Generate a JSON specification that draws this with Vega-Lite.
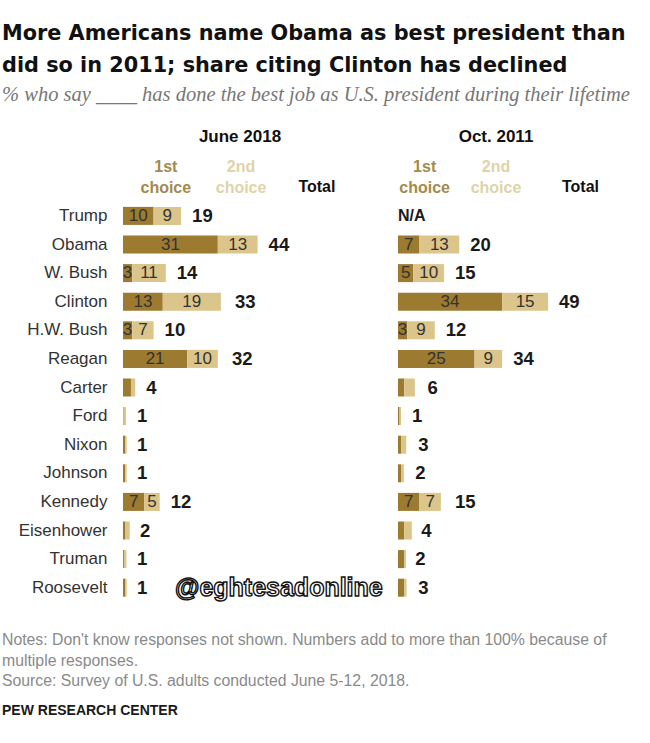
{
  "$schema": "https://vega.github.io/schema/vega-lite/v6.json",
  "background": "white",
  "padding": {"left": 2, "top": 22, "right": 5, "bottom": 5},
  "title": {
    "text": ["More Americans name Obama as best president than", "did so in 2011; share citing Clinton has declined"],
    "subtitle": "% who say ____ has done the best job as U.S. president during their lifetime",
    "anchor": "start",
    "font": "DejaVu Sans",
    "fontSize": 20.8,
    "fontWeight": "bold",
    "lineHeight": 32,
    "color": "#111111",
    "subtitleFont": "Liberation Serif",
    "subtitleFontStyle": "italic",
    "subtitleFontSize": 20.5,
    "subtitleColor": "#777777",
    "subtitlePadding": 8,
    "offset": 22
  },
  "datasets": {
    "presidents": [
      {"panel": "June 2018", "president": "Trump", "choice": "1st", "value": 10, "total": 19},
      {"panel": "June 2018", "president": "Trump", "choice": "2nd", "value": 9, "total": 19},
      {"panel": "June 2018", "president": "Obama", "choice": "1st", "value": 31, "total": 44},
      {"panel": "June 2018", "president": "Obama", "choice": "2nd", "value": 13, "total": 44},
      {"panel": "June 2018", "president": "W. Bush", "choice": "1st", "value": 3, "total": 14},
      {"panel": "June 2018", "president": "W. Bush", "choice": "2nd", "value": 11, "total": 14},
      {"panel": "June 2018", "president": "Clinton", "choice": "1st", "value": 13, "total": 33},
      {"panel": "June 2018", "president": "Clinton", "choice": "2nd", "value": 19, "total": 33},
      {"panel": "June 2018", "president": "H.W. Bush", "choice": "1st", "value": 3, "total": 10},
      {"panel": "June 2018", "president": "H.W. Bush", "choice": "2nd", "value": 7, "total": 10},
      {"panel": "June 2018", "president": "Reagan", "choice": "1st", "value": 21, "total": 32},
      {"panel": "June 2018", "president": "Reagan", "choice": "2nd", "value": 10, "total": 32},
      {"panel": "June 2018", "president": "Carter", "choice": "1st", "value": 2.6, "total": 4},
      {"panel": "June 2018", "president": "Carter", "choice": "2nd", "value": 1.4, "total": 4},
      {"panel": "June 2018", "president": "Ford", "choice": "1st", "value": 0.2, "total": 1},
      {"panel": "June 2018", "president": "Ford", "choice": "2nd", "value": 0.8, "total": 1},
      {"panel": "June 2018", "president": "Nixon", "choice": "1st", "value": 0.7, "total": 1},
      {"panel": "June 2018", "president": "Nixon", "choice": "2nd", "value": 0.5, "total": 1},
      {"panel": "June 2018", "president": "Johnson", "choice": "1st", "value": 0.7, "total": 1},
      {"panel": "June 2018", "president": "Johnson", "choice": "2nd", "value": 0.5, "total": 1},
      {"panel": "June 2018", "president": "Kennedy", "choice": "1st", "value": 7, "total": 12},
      {"panel": "June 2018", "president": "Kennedy", "choice": "2nd", "value": 5, "total": 12},
      {"panel": "June 2018", "president": "Eisenhower", "choice": "1st", "value": 0.8, "total": 2},
      {"panel": "June 2018", "president": "Eisenhower", "choice": "2nd", "value": 1.4, "total": 2},
      {"panel": "June 2018", "president": "Truman", "choice": "1st", "value": 0.3, "total": 1},
      {"panel": "June 2018", "president": "Truman", "choice": "2nd", "value": 0.8, "total": 1},
      {"panel": "June 2018", "president": "Roosevelt", "choice": "1st", "value": 0.8, "total": 1},
      {"panel": "June 2018", "president": "Roosevelt", "choice": "2nd", "value": 0.4, "total": 1},
      {"panel": "Oct. 2011", "president": "Obama", "choice": "1st", "value": 7, "total": 20},
      {"panel": "Oct. 2011", "president": "Obama", "choice": "2nd", "value": 13, "total": 20},
      {"panel": "Oct. 2011", "president": "W. Bush", "choice": "1st", "value": 5, "total": 15},
      {"panel": "Oct. 2011", "president": "W. Bush", "choice": "2nd", "value": 10, "total": 15},
      {"panel": "Oct. 2011", "president": "Clinton", "choice": "1st", "value": 34, "total": 49},
      {"panel": "Oct. 2011", "president": "Clinton", "choice": "2nd", "value": 15, "total": 49},
      {"panel": "Oct. 2011", "president": "H.W. Bush", "choice": "1st", "value": 3, "total": 12},
      {"panel": "Oct. 2011", "president": "H.W. Bush", "choice": "2nd", "value": 9, "total": 12},
      {"panel": "Oct. 2011", "president": "Reagan", "choice": "1st", "value": 25, "total": 34},
      {"panel": "Oct. 2011", "president": "Reagan", "choice": "2nd", "value": 9, "total": 34},
      {"panel": "Oct. 2011", "president": "Carter", "choice": "1st", "value": 2, "total": 6},
      {"panel": "Oct. 2011", "president": "Carter", "choice": "2nd", "value": 3.5, "total": 6},
      {"panel": "Oct. 2011", "president": "Ford", "choice": "1st", "value": 0.5, "total": 1},
      {"panel": "Oct. 2011", "president": "Ford", "choice": "2nd", "value": 0.5, "total": 1},
      {"panel": "Oct. 2011", "president": "Nixon", "choice": "1st", "value": 1, "total": 3},
      {"panel": "Oct. 2011", "president": "Nixon", "choice": "2nd", "value": 1.7, "total": 3},
      {"panel": "Oct. 2011", "president": "Johnson", "choice": "1st", "value": 1, "total": 2},
      {"panel": "Oct. 2011", "president": "Johnson", "choice": "2nd", "value": 0.9, "total": 2},
      {"panel": "Oct. 2011", "president": "Kennedy", "choice": "1st", "value": 7, "total": 15},
      {"panel": "Oct. 2011", "president": "Kennedy", "choice": "2nd", "value": 7, "total": 15},
      {"panel": "Oct. 2011", "president": "Eisenhower", "choice": "1st", "value": 2, "total": 4},
      {"panel": "Oct. 2011", "president": "Eisenhower", "choice": "2nd", "value": 2.5, "total": 4},
      {"panel": "Oct. 2011", "president": "Truman", "choice": "1st", "value": 2, "total": 2},
      {"panel": "Oct. 2011", "president": "Truman", "choice": "2nd", "value": 0.6, "total": 2},
      {"panel": "Oct. 2011", "president": "Roosevelt", "choice": "1st", "value": 2, "total": 3},
      {"panel": "Oct. 2011", "president": "Roosevelt", "choice": "2nd", "value": 0.8, "total": 3}
    ],
    "notes": [
      {"line": 1, "kind": "note", "text": "Notes: Don't know responses not shown. Numbers add to more than 100% because of"},
      {"line": 2, "kind": "note", "text": "multiple responses."},
      {"line": 3, "kind": "note", "text": "Source: Survey of U.S. adults conducted June 5-12, 2018."},
      {"line": 4, "kind": "org", "text": "PEW RESEARCH CENTER"}
    ]
  },
  "spacing": 28,
  "vconcat": [
    {
      "spacing": 41,
      "bounds": "flush",
      "hconcat": [
        {
          "width": 234,
          "height": 429,
          "title": {"text": "June 2018", "font": "Liberation Sans", "fontSize": 17, "fontWeight": "bold", "color": "#111111", "offset": 13},
          "data": {"name": "presidents"},
          "layer": [
            {
              "transform": [{"filter": "datum.panel == 'June 2018'"}],
              "mark": {"type": "bar"},
              "encoding": {
                "y": {
                  "field": "president", "type": "nominal",
                  "scale": {"domain": ["_h", "Trump", "Obama", "W. Bush", "Clinton", "H.W. Bush", "Reagan", "Carter", "Ford", "Nixon", "Johnson", "Kennedy", "Eisenhower", "Truman", "Roosevelt"], "paddingInner": 0.37, "paddingOuter": 0.185},
                  "axis": {"title": null, "domain": false, "ticks": false, "tickSize": 0, "labelPadding": 16, "minExtent": 121, "labelFont": "Liberation Sans", "labelFontSize": 17, "labelColor": "#333333", "labelExpr": "datum.value == '_h' ? '' : datum.value"}
                },
                "x": {"field": "value", "type": "quantitative", "stack": "zero", "scale": {"domain": [0, 76.5], "nice": false, "zero": true}, "axis": null},
                "color": {"field": "choice", "type": "nominal", "scale": {"domain": ["1st", "2nd"], "range": ["#9c7a30", "#dcc58a"]}, "legend": null},
                "order": {"field": "choice"}
              }
            },
            {
              "transform": [
                {"filter": "datum.panel == 'June 2018'"},
                {"filter": "datum.total >= 10"},
                {"stack": "value", "groupby": ["president"], "sort": [{"field": "choice", "order": "ascending"}], "as": ["x0", "x1"]},
                {"fold": ["x0", "x1"], "as": ["edge", "pos"]},
                {"aggregate": [{"op": "mean", "field": "pos", "as": "mid"}], "groupby": ["president", "choice", "value"]}
              ],
              "mark": {"type": "text", "font": "Liberation Sans", "fontSize": 17, "color": "#333333", "baseline": "middle"},
              "encoding": {
                "y": {"field": "president", "type": "nominal"},
                "x": {"field": "mid", "type": "quantitative"},
                "text": {"field": "value", "type": "quantitative"}
              }
            },
            {
              "transform": [{"filter": "datum.panel == 'June 2018'"}, {"filter": "datum.choice == '1st'"}],
              "mark": {"type": "text", "font": "Liberation Sans", "fontSize": 18.5, "fontWeight": "bold", "color": "#1a1a1a", "align": "left", "baseline": "middle", "dx": 11},
              "encoding": {
                "y": {"field": "president", "type": "nominal"},
                "x": {"field": "total", "type": "quantitative", "stack": null},
                "text": {"field": "total", "type": "quantitative"}
              }
            },
            {
              "data": {"values": [{}]},
              "mark": {"type": "text", "text": ["1st", "choice"], "lineHeight": 21, "font": "Liberation Sans", "fontSize": 16, "fontWeight": "bold", "color": "#a38a4b", "baseline": "middle", "dy": -20},
              "encoding": {"x": {"datum": 14, "type": "quantitative"}, "y": {"datum": "_h", "type": "nominal"}}
            },
            {
              "data": {"values": [{}]},
              "mark": {"type": "text", "text": ["2nd", "choice"], "lineHeight": 21, "font": "Liberation Sans", "fontSize": 16, "fontWeight": "bold", "color": "#e0d3a8", "baseline": "middle", "dy": -20},
              "encoding": {"x": {"datum": 38.6, "type": "quantitative"}, "y": {"datum": "_h", "type": "nominal"}}
            },
            {
              "data": {"values": [{}]},
              "mark": {"type": "text", "text": "Total", "font": "Liberation Sans", "fontSize": 16, "fontWeight": "bold", "color": "#111111", "baseline": "middle"},
              "encoding": {"x": {"datum": 63.4, "type": "quantitative"}, "y": {"datum": "_h", "type": "nominal"}}
            },
            {
              "data": {"values": [{}]},
              "mark": {"type": "text", "text": "@eghtesadonline", "font": "Liberation Sans", "fontSize": 25, "fontWeight": "bold", "fill": "white", "stroke": "#111111", "strokeWidth": 1.4, "align": "left", "baseline": "middle"},
              "encoding": {"x": {"datum": 17, "type": "quantitative"}, "y": {"datum": "Roosevelt", "type": "nominal"}}
            }
          ]
        },
        {
          "width": 196,
          "height": 429,
          "title": {"text": "Oct. 2011", "font": "Liberation Sans", "fontSize": 17, "fontWeight": "bold", "color": "#111111", "offset": 13},
          "data": {"name": "presidents"},
          "layer": [
            {
              "transform": [{"filter": "datum.panel == 'Oct. 2011'"}],
              "mark": {"type": "bar"},
              "encoding": {
                "y": {
                  "field": "president", "type": "nominal",
                  "scale": {"domain": ["_h", "Trump", "Obama", "W. Bush", "Clinton", "H.W. Bush", "Reagan", "Carter", "Ford", "Nixon", "Johnson", "Kennedy", "Eisenhower", "Truman", "Roosevelt"], "paddingInner": 0.37, "paddingOuter": 0.185},
                  "axis": null
                },
                "x": {"field": "value", "type": "quantitative", "stack": "zero", "scale": {"domain": [0, 64], "nice": false, "zero": true}, "axis": null},
                "color": {"field": "choice", "type": "nominal", "scale": {"domain": ["1st", "2nd"], "range": ["#9c7a30", "#dcc58a"]}, "legend": null},
                "order": {"field": "choice"}
              }
            },
            {
              "transform": [
                {"filter": "datum.panel == 'Oct. 2011'"},
                {"filter": "datum.total >= 10"},
                {"stack": "value", "groupby": ["president"], "sort": [{"field": "choice", "order": "ascending"}], "as": ["x0", "x1"]},
                {"fold": ["x0", "x1"], "as": ["edge", "pos"]},
                {"aggregate": [{"op": "mean", "field": "pos", "as": "mid"}], "groupby": ["president", "choice", "value"]}
              ],
              "mark": {"type": "text", "font": "Liberation Sans", "fontSize": 17, "color": "#333333", "baseline": "middle"},
              "encoding": {
                "y": {"field": "president", "type": "nominal"},
                "x": {"field": "mid", "type": "quantitative"},
                "text": {"field": "value", "type": "quantitative"}
              }
            },
            {
              "transform": [{"filter": "datum.panel == 'Oct. 2011'"}, {"filter": "datum.choice == '1st'"}],
              "mark": {"type": "text", "font": "Liberation Sans", "fontSize": 18.5, "fontWeight": "bold", "color": "#1a1a1a", "align": "left", "baseline": "middle", "dx": 11},
              "encoding": {
                "y": {"field": "president", "type": "nominal"},
                "x": {"field": "total", "type": "quantitative", "stack": null},
                "text": {"field": "total", "type": "quantitative"}
              }
            },
            {
              "data": {"values": [{}]},
              "mark": {"type": "text", "text": "N/A", "font": "Liberation Sans", "fontSize": 16, "fontWeight": "bold", "color": "#1a1a1a", "align": "left", "baseline": "middle"},
              "encoding": {"x": {"datum": 0, "type": "quantitative"}, "y": {"datum": "Trump", "type": "nominal"}}
            },
            {
              "data": {"values": [{}]},
              "mark": {"type": "text", "text": ["1st", "choice"], "lineHeight": 21, "font": "Liberation Sans", "fontSize": 16, "fontWeight": "bold", "color": "#a38a4b", "baseline": "middle", "dy": -20},
              "encoding": {"x": {"datum": 8.7, "type": "quantitative"}, "y": {"datum": "_h", "type": "nominal"}}
            },
            {
              "data": {"values": [{}]},
              "mark": {"type": "text", "text": ["2nd", "choice"], "lineHeight": 21, "font": "Liberation Sans", "fontSize": 16, "fontWeight": "bold", "color": "#e0d3a8", "baseline": "middle", "dy": -20},
              "encoding": {"x": {"datum": 32, "type": "quantitative"}, "y": {"datum": "_h", "type": "nominal"}}
            },
            {
              "data": {"values": [{}]},
              "mark": {"type": "text", "text": "Total", "font": "Liberation Sans", "fontSize": 16, "fontWeight": "bold", "color": "#111111", "baseline": "middle"},
              "encoding": {"x": {"datum": 59.6, "type": "quantitative"}, "y": {"datum": "_h", "type": "nominal"}}
            }
          ]
        }
      ]
    },
    {
      "width": 300,
      "height": 82,
      "data": {"name": "notes"},
      "layer": [
        {
          "transform": [{"filter": "datum.kind == 'note'"}],
          "mark": {"type": "text", "align": "left", "baseline": "middle", "font": "Liberation Sans", "fontSize": 15.8, "color": "#8a8a8a", "dx": -121},
          "encoding": {
            "x": {"datum": 0, "type": "quantitative", "scale": {"domain": [0, 1]}, "axis": null},
            "y": {"field": "line", "type": "ordinal", "scale": {"domain": [1, 2, 3, 4]}, "axis": null},
            "text": {"field": "text"}
          }
        },
        {
          "transform": [{"filter": "datum.kind == 'org'"}],
          "mark": {"type": "text", "align": "left", "baseline": "middle", "font": "Liberation Sans", "fontSize": 14, "fontWeight": "bold", "color": "#1a1a1a", "dx": -121, "dy": 9},
          "encoding": {
            "x": {"datum": 0, "type": "quantitative"},
            "y": {"field": "line", "type": "ordinal"},
            "text": {"field": "text"}
          }
        }
      ]
    }
  ],
  "config": {
    "view": {"stroke": null},
    "axis": {"grid": false}
  }
}
